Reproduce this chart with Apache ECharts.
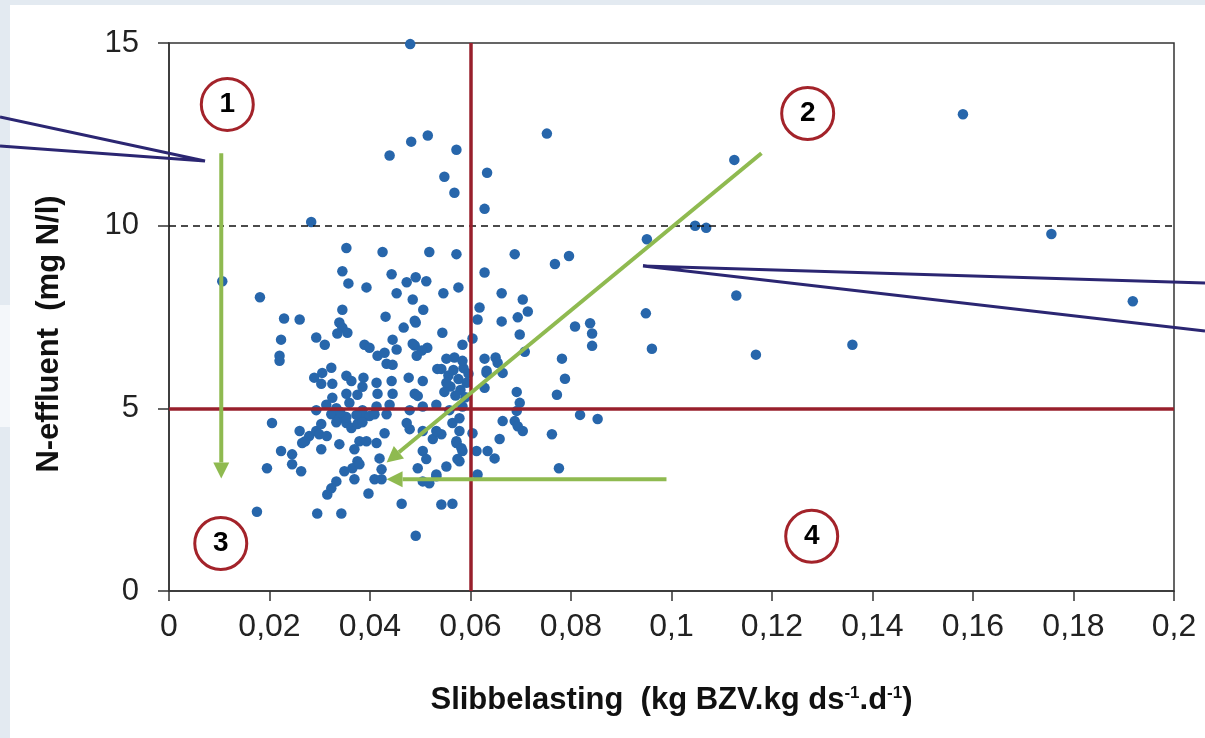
<!DOCTYPE html>
<html>
<head>
<meta charset="utf-8">
<script src="https://cdn.jsdelivr.net/npm/echarts@6/dist/echarts.min.js"></script>
<style>
html, body { margin: 0; padding: 0; background: #e3eaf1; }
#card { position: absolute; left: 10px; top: 5px; right: 0; bottom: 0; background: #fff; }
#strip { position: absolute; left: 0; top: 305px; width: 10px; height: 122px; background: #f4f7fa; }
#main { position: absolute; left: 0; top: 0; width: 1205px; height: 738px; }
</style>
</head>
<body>
<div id="card"></div>
<div id="strip"></div>
<div id="main"></div>
<script>
// assen
var xTickLabels = ['0', '0,02', '0,04', '0,06', '0,08', '0,1', '0,12', '0,14', '0,16', '0,18', '0,2'];
var yTickLabels = ['0', '5', '10', '15'];

// grenswaarden
var grensSlib = 0.06;
var grensN = 5;
var normN = 10;

// metingen [slibbelasting, N-effluent]
var upperPoints = [
  [0.0439, 11.92], [0.0482, 12.3], [0.0515, 12.47], [0.0572, 12.08], [0.0548, 11.34], [0.0568, 10.9],
  [0.0633, 11.45], [0.0628, 10.46], [0.0752, 12.52], [0.0283, 10.1],
  [0.0106, 8.48], [0.0181, 8.04], [0.0229, 7.46], [0.026, 7.43],
  [0.0353, 9.39], [0.0425, 9.28], [0.0518, 9.28], [0.0572, 9.22], [0.0628, 8.72], [0.0345, 8.75],
  [0.0357, 8.42], [0.0393, 8.31], [0.0443, 8.67], [0.0453, 8.15], [0.0473, 8.45], [0.0491, 8.59],
  [0.0512, 8.48], [0.0546, 8.15], [0.0576, 8.31], [0.0485, 7.98], [0.0506, 7.7], [0.0345, 7.7],
  [0.0339, 7.35], [0.0345, 7.21], [0.0355, 7.07], [0.0335, 7.05], [0.0431, 7.51], [0.0467, 7.21],
  [0.0491, 7.35], [0.0544, 7.07], [0.0618, 7.76], [0.0614, 7.43], [0.0489, 7.4],
  [0.0688, 9.22], [0.0796, 9.17], [0.0768, 8.95], [0.0662, 8.15], [0.0704, 7.98], [0.0714, 7.65],
  [0.0694, 7.49], [0.0662, 7.38], [0.0698, 7.02], [0.0808, 7.24], [0.0838, 7.33], [0.0842, 7.05]
];
var midPoints = [
  [0.0223, 6.88], [0.022, 6.44], [0.022, 6.3], [0.0293, 6.94], [0.031, 6.74],
  [0.0604, 6.91], [0.0584, 6.74], [0.0628, 6.36], [0.0632, 5.97],
  [0.0708, 6.55], [0.065, 6.39], [0.0654, 6.25], [0.0664, 5.97], [0.0632, 6.03], [0.0782, 6.36],
  [0.0788, 5.81], [0.0772, 5.37], [0.0692, 5.45], [0.0628, 5.56], [0.0842, 6.71],
  [0.0389, 6.74], [0.0399, 6.66], [0.0415, 6.44], [0.0429, 6.52], [0.0445, 6.88], [0.0453, 6.61],
  [0.0433, 6.22], [0.0445, 6.19], [0.0489, 6.72], [0.0514, 6.66], [0.0493, 6.44], [0.0542, 6.08],
  [0.0485, 6.77], [0.0503, 6.58], [0.0534, 6.08], [0.0552, 6.36], [0.0568, 6.39],
  [0.0289, 5.84], [0.0305, 5.97], [0.0323, 6.11], [0.0303, 5.67], [0.0325, 5.67], [0.0353, 5.89],
  [0.0363, 5.75], [0.0387, 5.84], [0.0413, 5.7], [0.0385, 5.59], [0.0353, 5.4], [0.0375, 5.37],
  [0.0415, 5.4], [0.0443, 5.75], [0.0445, 5.4], [0.0477, 5.84], [0.0489, 5.4], [0.0505, 5.75],
  [0.0325, 5.29], [0.0495, 5.34],
  [0.0556, 5.9], [0.0566, 6.05], [0.0576, 5.8], [0.0586, 6.1], [0.056, 5.6], [0.058, 5.5],
  [0.0592, 5.7], [0.057, 5.35], [0.0548, 5.45], [0.0596, 5.95], [0.0584, 6.3], [0.0552, 5.7], [0.059, 5.3],
  [0.0293, 4.95], [0.0313, 5.1], [0.0333, 5.0], [0.0359, 5.15], [0.0385, 4.95], [0.0413, 5.05],
  [0.0439, 5.1], [0.0479, 4.95], [0.0505, 5.05], [0.0532, 5.1], [0.0558, 4.95], [0.0584, 5.05],
  [0.0698, 5.15], [0.0692, 4.93]
];
var lowerPoints = [
  [0.0205, 4.6], [0.026, 4.38], [0.0279, 4.24], [0.0293, 4.38], [0.0303, 4.57], [0.0265, 4.05],
  [0.0303, 3.88], [0.0223, 3.83], [0.0245, 3.74], [0.0245, 3.47], [0.0263, 3.28], [0.0195, 3.36],
  [0.0175, 2.17], [0.0295, 2.12], [0.0343, 2.12],
  [0.0339, 4.02], [0.0323, 4.84], [0.0339, 4.73], [0.0353, 4.6], [0.0363, 4.46], [0.0375, 4.57],
  [0.0385, 4.84], [0.0399, 4.79], [0.0409, 4.84], [0.0433, 4.84], [0.0379, 4.1], [0.0393, 4.1],
  [0.0413, 4.05], [0.0369, 3.88], [0.0429, 4.32], [0.0479, 4.43], [0.0473, 4.6], [0.0505, 4.38],
  [0.0525, 4.16], [0.0542, 4.29], [0.0564, 4.6], [0.0578, 4.38], [0.0572, 4.05], [0.0584, 3.83],
  [0.0574, 3.61], [0.0552, 3.41], [0.0505, 3.83], [0.0512, 3.61], [0.0495, 3.36], [0.0505, 3.0],
  [0.0518, 2.95], [0.0532, 3.14],
  [0.0375, 3.55], [0.0365, 3.36], [0.0349, 3.28], [0.0333, 3.0], [0.0323, 2.81], [0.0315, 2.64],
  [0.0369, 3.06], [0.0419, 3.63], [0.0423, 3.33], [0.0409, 3.06], [0.0423, 3.06], [0.0397, 2.67],
  [0.0463, 2.39], [0.0542, 2.37], [0.0564, 2.39], [0.0491, 1.51],
  [0.0604, 4.32], [0.0612, 3.83], [0.0664, 4.65], [0.0688, 4.65], [0.0694, 4.51], [0.0704, 4.38],
  [0.0658, 4.16], [0.0762, 4.29], [0.0818, 4.82], [0.0853, 4.71], [0.0634, 3.83], [0.0648, 3.63],
  [0.0614, 3.19], [0.0776, 3.36], [0.0578, 4.73], [0.0532, 4.38], [0.0572, 4.1], [0.0582, 3.91],
  [0.0578, 3.55], [0.0532, 3.19],
  [0.0271, 4.1], [0.0299, 4.29], [0.0353, 4.76], [0.0373, 4.82], [0.0385, 4.62], [0.0341, 4.9],
  [0.0333, 4.62], [0.0314, 4.24], [0.0379, 3.47]
];
var outlierPoints = [
  [0.048, 14.97], [0.1125, 11.8], [0.158, 13.05], [0.1047, 10.0], [0.1069, 9.94], [0.0951, 9.63],
  [0.1756, 9.77], [0.1129, 8.09], [0.0949, 7.6], [0.1918, 7.93], [0.0961, 6.63], [0.1168, 6.47],
  [0.136, 6.74]
];

// kwadranten (nummer in cirkel)
var zoneLabels = ['1', '2', '3', '4'];
var zonePos = [[0.0116, 13.32], [0.1271, 13.07], [0.0103, 1.3], [0.1279, 1.5]];

// groene pijlen [van, naar]
var arrows = [
  [[0.0104, 11.98], [0.0104, 3.08]],
  [[0.1179, 11.98], [0.0433, 3.52]],
  [[0.099, 3.06], [0.0433, 3.06]]
];

var font = "'Liberation Sans', Arial, sans-serif";
var allPoints = upperPoints.concat(midPoints, lowerPoints, outlierPoints);

var chart = echarts.init(document.getElementById('main'), null, { renderer: 'canvas' });
var option = {
  backgroundColor: 'transparent',
  animation: false,
  grid: {
    left: 169, right: 31, top: 43, bottom: 147,
    show: true, borderColor: '#333', borderWidth: 1.5, backgroundColor: 'transparent',
    outerBoundsMode: 'none'
  },
  xAxis: {
    type: 'value', min: 0, max: 0.2, interval: 0.02,
    name: '{a|Slibbelasting  (kg BZV.kg ds}{s|-1}{a|.d}{s|-1}{a|)}',
    nameLocation: 'middle', nameGap: 94,
    nameTextStyle: {
      rich: {
        a: { fontFamily: font, fontSize: 31, fontWeight: 'bold', color: '#111' },
        s: { fontFamily: font, fontSize: 17, fontWeight: 'bold', color: '#111', verticalAlign: 'top' }
      }
    },
    axisLine: { onZero: false, lineStyle: { color: '#333', width: 1.5 } },
    axisTick: { show: true, inside: false, length: 10, lineStyle: { color: '#333', width: 1.5 } },
    splitLine: { show: false },
    axisLabel: {
      margin: 20, fontFamily: font, fontSize: 32, color: '#222',
      formatter: function (v) { return xTickLabels[Math.round(v / 0.02)]; }
    }
  },
  yAxis: {
    type: 'value', min: 0, max: 15, interval: 5,
    name: 'N-effluent  (mg N/l)',
    nameLocation: 'middle', nameGap: 104,
    nameTextStyle: { fontFamily: font, fontSize: 31, fontWeight: 'bold', color: '#111', padding: [0, 34, 0, 0] },
    axisLine: { onZero: false, lineStyle: { color: '#333', width: 1.5 } },
    axisTick: { show: true, inside: false, length: 11, lineStyle: { color: '#333', width: 1.5 } },
    splitLine: { show: false },
    axisLabel: {
      margin: 30, fontFamily: font, fontSize: 31, color: '#222',
      formatter: function (v) { return yTickLabels[Math.round(v / 5)]; }
    }
  },
  series: [
    {
      name: 'metingen', type: 'scatter', z: 3,
      symbol: 'circle', symbolSize: 10.5,
      itemStyle: { color: '#2766ab', opacity: 1 },
      data: allPoints,
      markLine: {
        silent: true, symbol: ['none', 'none'], label: { show: false }, z: 5,
        data: [
          { yAxis: normN, lineStyle: { color: '#111', width: 1.5, type: [7, 5], opacity: 1 } },
          { xAxis: grensSlib, lineStyle: { color: '#98202c', width: 3.5, type: 'solid', opacity: 1 } },
          { yAxis: grensN, lineStyle: { color: '#98202c', width: 3.5, type: 'solid', opacity: 1 } }
        ]
      }
    },
    {
      name: 'zones', type: 'scatter', z: 6,
      symbol: 'circle', symbolSize: 52,
      itemStyle: { color: '#fff', borderColor: '#a3232a', borderWidth: 3, opacity: 1 },
      label: {
        show: true, position: 'inside', fontFamily: font, fontSize: 28, fontWeight: 'bold', color: '#000',
        formatter: function (p) { return zoneLabels[p.dataIndex]; }
      },
      data: zonePos
    }
  ]
};
chart.setOption(option);

// pijlen en aanwijslijnen
var green = '#8fba50';
var navy = '#2b2672';
var graphics = [
  { type: 'polyline', z: 20, shape: { points: [[0, 117], [205, 161], [0, 146]] }, style: { stroke: navy, lineWidth: 3, fill: null } },
  { type: 'polyline', z: 20, shape: { points: [[1205, 283], [643, 266], [1205, 331]] }, style: { stroke: navy, lineWidth: 3, fill: null } }
];
arrows.forEach(function (a) {
  var p0 = chart.convertToPixel({ xAxisIndex: 0, yAxisIndex: 0 }, a[0]);
  var p1 = chart.convertToPixel({ xAxisIndex: 0, yAxisIndex: 0 }, a[1]);
  var dx = p1[0] - p0[0], dy = p1[1] - p0[1];
  var len = Math.sqrt(dx * dx + dy * dy);
  var ux = dx / len, uy = dy / len;
  var hl = 16, hw = 8;
  var bx = p1[0] - ux * hl, by = p1[1] - uy * hl;
  graphics.push({ type: 'line', z: 20, shape: { x1: p0[0], y1: p0[1], x2: bx, y2: by }, style: { stroke: green, lineWidth: 4 } });
  graphics.push({ type: 'polygon', z: 20, shape: { points: [[p1[0], p1[1]], [bx - uy * hw, by + ux * hw], [bx + uy * hw, by - ux * hw]] }, style: { fill: green } });
});
chart.setOption({ graphic: graphics });
</script>
</body>
</html>
